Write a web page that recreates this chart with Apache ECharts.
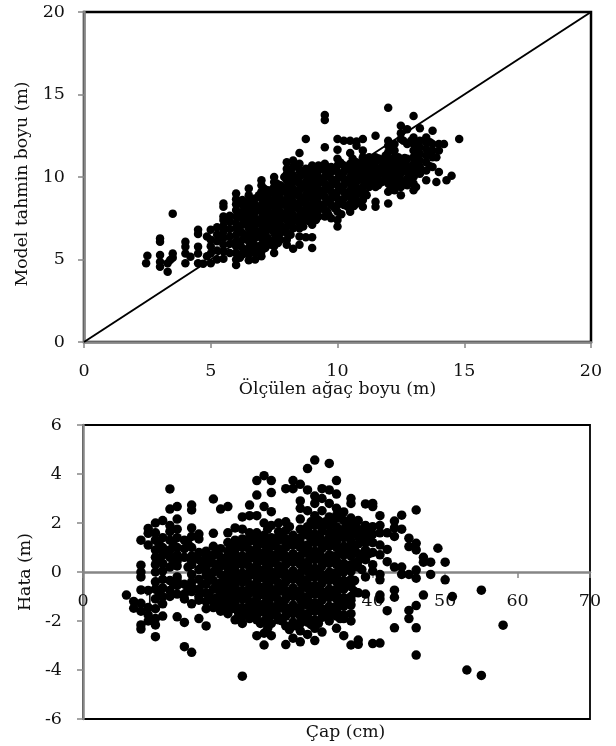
<!DOCTYPE html>
<html><head><meta charset="utf-8">
<style>html,body{margin:0;padding:0;background:#fff}#c{width:616px;height:746px}</style>
<script src="https://cdn.jsdelivr.net/npm/echarts@6/dist/echarts.min.js"></script>
</head><body><div id="c"></div>
<script>
const topTitleX = 'Ölçülen ağaç boyu (m)';
const topTitleY = 'Model tahmin boyu (m)';
const bottomTitleX = 'Çap (cm)';
const bottomTitleY = 'Hata (m)';
const diagonal = [[0,0],[20,20]];

// Measured height (m) -> model heights (m), read column by column
const measuredHeights = [2.45,2.5,3,3.3,3.4,3.5,4,4.2,4.5,4.7,4.85,5,5.25,5.5,5.75,6,6.25,6.5,6.75,7,7.25,7.5,7.75,8,8.25,8.5,8.75,9,9.25,9.5,9.75,10,10.25,10.5,10.75,11,11.25,11.5,11.75,12,12.25,12.5,12.75,13,13.25,13.5,13.75,13.9,14,14.2,14.3,14.5,14.8];
const modelHeights = [
[4.77],[5.23],[6.28,6.08,5.27,4.87,4.56],[4.77,4.26],[4.97],[7.78,5.37,5.1],
[6.08,5.78,5.37,4.77],[5.17],[6.8,6.55,5.78,5.37,4.77],[4.75],[6.39,5.2],[6.8,6.2,5.8,5.37,4.77],
[5.0,5.55,6.1,6.5,6.95],[5.05,5.5,5.9,6.3,6.7,7.05,7.4,7.6,8.2,8.4],[5.4,5.95,6.4,6.85,7.3,7.65],
[4.67,5.0,5.4,5.8,6.1,6.5,6.9,7.2,7.6,8.0,8.35,8.65,9.0],[5.3,5.7,6.2,6.6,7.1,7.5,7.9,8.3,8.6],
[4.95,5.3,5.7,6.1,6.5,6.9,7.3,7.7,8.1,8.5,8.9,9.3],[5.0,5.4,5.85,6.3,6.7,7.1,7.5,7.9,8.3,8.7],
[5.2,5.5,5.9,6.3,6.7,7.1,7.5,7.9,8.3,8.7,9.1,9.5,9.8],[5.9,6.3,6.8,7.2,7.6,8.0,8.4,8.8,9.2],
[5.4,5.8,6.2,6.6,7.0,7.4,7.8,8.2,8.6,9.0,9.4,9.7,10.0],[6.2,6.6,7.1,7.5,7.9,8.3,8.7,9.1,9.5],
[5.9,6.2,6.6,7.0,7.4,7.8,8.2,8.6,9.0,9.4,9.8,10.2,10.5,10.9],[5.65,6.9,7.3,7.7,8.1,8.5,8.9,9.3,9.7,10.1,10.6,11.0],
[5.9,6.4,6.9,7.2,7.6,8.0,8.4,8.8,9.2,9.6,10.0,10.4,10.8,11.45],[6.35,7.4,7.7,8.1,8.5,8.9,9.3,9.7,10.1,10.5,12.3],
[5.7,6.35,7.1,7.5,7.9,8.3,8.7,9.1,9.5,9.9,10.3,10.7],[7.6,8.0,8.4,8.8,9.2,9.6,10.0,10.4,10.7],
[7.6,8.0,8.4,8.8,9.2,9.6,10.0,10.4,10.8,11.8,13.45,13.76],[7.5,8.3,8.7,9.1,9.5,9.9,10.3,10.6],
[7.0,7.4,7.9,8.3,8.7,9.1,9.5,9.9,10.3,10.7,11.1,11.65,12.3],[8.3,8.7,9.1,9.5,9.9,10.3,10.7,12.2],
[7.9,8.4,8.8,9.2,9.6,10.0,10.4,10.8,11.45,12.2],[8.5,8.9,9.3,9.7,10.1,10.5,10.9,11.9,12.15],
[8.2,8.6,9.0,9.4,9.8,10.3,10.9,11.2,11.6,12.3],[9.4,9.9,10.3,10.8,11.2],
[8.2,8.5,9.4,9.9,10.3,10.9,11.2,12.5],[9.7,10.2,10.6,11.0],
[8.4,9.1,9.6,9.9,10.3,10.7,11.1,11.5,11.9,12.2,14.2],[9.2,9.6,10.0,10.4,10.8,11.2,11.6,12.0],
[8.9,9.4,9.8,10.2,10.6,11.0,12.3,12.65,13.1],[9.5,9.9,10.3,10.7,11.1,12.0,12.9],
[9.2,9.6,10.0,10.4,10.8,11.2,11.6,12.0,12.4,13.7],[10.2,10.6,11.0,11.4,11.8,12.2,12.95],
[9.8,10.4,10.9,11.3,11.7,12.1,12.4],[10.6,11.2,11.6,12.0,12.8],
[9.7,11.2],[10.3,11.6,12.0],[12.0],[9.8],[10.07],[12.3]
];
// Further trees inside the dense cloud of the upper panel
const measuredHeightsDense = [6.4,6.6,6.9,7.1,7.4,7.6,7.9,8.1,8.4,8.6,8.9,9.1,9.4,9.6,9.9,10.1,10.4,10.6,10.9,11.1,11.4,11.6,11.9,12.1,12.4,12.6,12.9,13.1];
const modelHeightsDense = [
[5.5,6.4,7.3,8.1],[6.0,6.9,7.7,8.4],[5.7,6.5,7.3,8.1,8.9],[6.1,6.9,7.7,8.5,9.3],[5.9,6.8,7.6,8.4,9.2],
[6.4,7.2,8.0,8.8,9.6],[6.8,7.6,8.4,9.2,10.0],[7.2,8.0,8.8,9.6,10.4],[7.5,8.3,9.1,9.9,10.7],[7.9,8.7,9.5,10.3],
[7.3,8.1,8.9,9.7,10.5],[7.7,8.5,9.3,10.1],[8.2,9.0,9.8,10.6],[7.9,8.6,9.4,10.2],[8.1,8.9,9.7,10.5],
[8.5,9.3,10.1,10.9],[8.2,9.0,9.8,10.6],[8.7,9.5,10.3,11.1],[8.4,9.2,10.0,10.7],[9.0,9.6,10.1,10.6],
[9.7,10.2,10.6,11.0],[9.5,10.1,10.5,11.1],[9.9,10.5,10.9,11.3],[9.4,9.8,10.2,10.6,11.0],
[9.6,10.0,10.4,10.8,11.2],[9.6,10.4,10.9,12.2],[9.8,10.2,10.6,12.2],[9.4,10.2,11.0,11.8]
];
const measuredHeightsCore = [6.15,6.65,7.15,7.65,8.15,8.65,9.15,9.65,10.15,10.65,11.15,11.65,12.15,12.65,13.15,13.65];
const modelHeightsCore = [
[5.1,5.95,6.75,7.6],[5.6,6.55,7.5,8.3],[5.7,6.55,7.4,8.2,9.0],[6.0,6.9,7.75,8.55,9.4],
[6.5,7.5,8.3,9.1,9.9,10.35],[7.0,7.85,8.65,9.45,10.25],[7.4,8.2,9.0,9.8,10.5],[7.7,8.5,9.3,10.1],
[7.75,8.5,9.3,10.05,10.8],[8.25,9.05,9.85,10.65],[8.9,9.65,10.5,11.0],[9.6,10.35,11.1],
[9.4,10.15,10.95,11.75],[9.7,10.5,11.15],[10.4,11.2,12.05],[10.65,11.45,12.1]
];

// Diameter (cm) -> height error (m), read column by column
const diameters = [6,7,8,9,10,11,12,13,14,15,16,17,18,19,20,21,22,23,24,25,26,27,28,29,30,31,32,33,34,35,36,37,38,39,40,41,42,43,44,45,46,47,48,49,50,51,53,55,58];
const errors = [
[-0.94],[-1.2,-1.48],[1.3,0.28,0,-0.2,-0.73,-1.28,-1.6,-2.16,-2.33],[1.78,1.58,1.1,-0.75,-1.45,-1.75,-2.0],
[2.0,1.6,1.3,0.9,0.6,0.3,0,-0.4,-0.7,-1.1,-1.5,-1.9,-2.16,-2.64],[2.1,1.4,1.0,0.7,0.35,0.05,-0.3,-1.0,-1.3,-1.8],
[3.39,2.57,1.9,1.65,1.3,0.9,0.6,0.2,-0.35,-0.75,-1.0],[2.67,2.16,1.75,1.4,1.0,0.7,0.25,-0.2,-0.55,-0.9,-1.83],
[1.3,0.95,0.6,-0.5,-0.9,-1.1,-2.06,-3.05],[2.73,2.53,1.8,1.45,1.0,0.65,0.3,-0.1,-0.4,-0.8,-1.3,-3.28],
[1.55,1.35,0.8,0.5,0.1,-0.3,-0.7,-1.0,-1.15,-1.9],[0.85,0.55,0.2,-0.15,-0.5,-1.2,-1.5,-2.2],
[2.98,1.58,1.05,0.7,0.35,0,-0.35,-0.7,-1.2,-1.45],[2.57,0.95,0.6,0.25,-0.1,-0.45,-0.85,-1.2,-1.6],
[2.67,1.6,1.2,0.85,0.5,0.15,-0.2,-0.55,-0.9,-1.25,-1.7],[1.8,1.3,0.95,0.6,0.25,-0.1,-0.45,-0.8,-1.15,-1.5,-1.95],
[2.25,1.75,1.35,1.0,0.65,0.3,-0.05,-0.4,-0.75,-1.1,-1.45,-1.8,-2.1,-4.25],
[2.73,2.3,1.6,1.25,0.9,0.55,0.2,-0.15,-0.5,-0.85,-1.2,-1.55,-1.9],
[3.73,3.14,2.3,1.6,1.2,0.85,0.5,0.15,-0.2,-0.55,-0.9,-1.25,-1.6,-1.95,-2.6],
[3.93,2.67,2.0,1.5,1.15,0.8,0.45,0.1,-0.25,-0.6,-0.95,-1.3,-1.65,-2.0,-2.5,-2.98],
[3.73,3.24,2.46,1.9,1.4,1.05,0.7,0.35,0,-0.35,-0.7,-1.05,-1.4,-1.75,-2.1,-2.6],
[2.0,1.65,1.3,0.95,0.6,0.25,-0.1,-0.45,-0.8,-1.15,-1.5,-1.85],
[3.4,2.05,1.7,1.35,1.0,0.65,0.3,-0.05,-0.4,-0.75,-1.1,-1.45,-1.8,-2.2,-2.96],
[3.73,3.4,1.5,1.1,0.75,0.4,0.05,-0.3,-0.65,-1.0,-1.35,-1.7,-2.05,-2.7],
[3.58,2.9,2.6,2.16,1.75,1.4,1.0,0.65,0.3,-0.05,-0.4,-0.75,-1.1,-1.45,-1.8,-2.4,-2.85],
[4.22,3.35,2.5,1.85,1.5,1.1,0.75,0.4,0.05,-0.3,-0.65,-1.0,-1.35,-1.7,-2.05,-2.55],
[4.57,3.1,2.8,2.3,1.9,1.55,1.2,0.85,0.5,0.15,-0.2,-0.55,-0.9,-1.25,-1.6,-1.95,-2.3,-2.8],
[3.4,3.0,2.5,2.0,1.65,1.3,0.95,0.6,0.25,-0.1,-0.45,-0.8,-1.15,-1.5,-1.85,-2.45],
[4.43,3.35,2.8,2.25,1.9,1.4,1.05,0.7,0.35,0,-0.35,-0.7,-1.05,-1.4,-1.75,-2.0],
[3.73,3.18,2.6,2.3,1.85,1.5,1.0,0.65,0.3,-0.05,-0.4,-0.75,-1.1,-1.45,-1.8,-2.3],
[2.45,2.1,1.75,1.4,1.05,0.7,0.35,0,-0.35,-0.7,-1.05,-1.4,-1.75,-2.6],
[3.0,2.8,2.2,1.85,1.5,1.0,0.65,0.3,0.02,-0.3,-0.6,-1.0,-1.35,-1.7,-2.0,-2.98],
[2.1,1.75,1.45,1.15,0.75,0.45,0.2,-0.85,-2.78,-2.95],
[2.78,1.9,1.55,1.2,0.9,0.5,-0.2,-0.9],
[2.8,2.67,1.85,1.55,1.2,0.8,0.3,0.04,-2.92],
[2.3,1.9,1.6,1.1,0.7,-0.1,-0.32,-0.94,-1.1,-2.9],
[1.6,0.92,0.42,-1.58],[2.08,1.8,1.45,0.2,-0.74,-1.03,-2.28],[2.32,1.75,0.2,-0.1],
[1.38,1.04,-0.1,-1.57,-1.9],[2.53,1.17,0.9,0.08,-0.25,-1.37,-2.28,-3.39],[0.6,0.4,-0.94],[0.4,-0.1],[0.97],[0.4,-0.32],[-1.0],[-4.0],[-0.74,-4.22],[-2.17]
];
// Further trees inside the dense cloud of the lower panel
const diametersDense = [10.5,12.5,14.5,16.5,17.5,18.5,19.5,20.5,21.5,22.5,23.5,24.5,25.5,26.5,27.5,28.5,29.5,30.5,31.5,32.5,33.5,34.5,35.5,36.5,37.5,38.5,39.5];
const errorsDense = [
[1.15,0.45,-0.9],[1.1,0.4,-0.5],[1.15,0.2,-0.7],[0.3,-0.5],[0.4,-0.3,-1.0],
[0.85,0.15,-0.5,-1.05],[0.4,-0.3,-1.0],[1.0,0.35,-0.35,-1.05,-1.5],[1.1,0.4,-0.3,-1.0,-1.7],
[1.15,0.45,-0.25,-0.95,-1.65],[1.45,0.75,0.05,-0.65,-1.35,-1.75],[1.4,0.7,0,-0.7,-1.4,-2.1],
[1.75,1.0,0.3,-0.4,-1.1,-1.8,-2.3],[1.25,0.55,-0.15,-0.85,-1.55],[1.5,0.8,0.1,-0.6,-1.3,-2.0],
[1.85,1.15,0.45,-0.25,-0.95,-1.65,-2.35],[1.3,0.6,-0.1,-0.8,-1.5,-2.2],[1.6,0.9,0.2,-0.5,-1.2,-1.9],
[2.05,1.35,0.65,-0.05,-0.75,-1.45,-2.15],[2.1,1.4,0.7,0,-0.7,-1.4,-2.1],[2.05,1.2,0.5,-0.2,-0.9,-1.6],
[2.1,1.35,0.65,-0.05,-0.75,-1.45],[2.2,1.5,0.8,0.1,-0.6,-1.3,-1.9],[2.0,1.65,0.85,0.15,-0.55,-1.2],
[1.95,1.6,0.9,0.35,-0.35,-0.8],[1.65,1.3,0.7,0.1],[1.7,1.35,0.75]
];
const diametersCore = [11,13,15,17,19,20,21,22,23,24,25,26,27,28,29,30,31,32,33,34,35,36,37];
const errorsCore = [
[0.85,-0.65],[0.45,-0.35],[0.45,-0.6],[0.7,0,-0.85],[0.4,-0.65,-1.4],
[0.65,-0.05,-0.7,-1.45],[0.75,0.05,-0.6,-1.3],[1.15,0.45,-0.2,-0.9,-1.6],[1.4,0.7,0,-0.65,-1.35],
[1.0,0.3,-0.4,-1.05,-1.75],[1.3,0.6,-0.1,-0.8,-1.5],[1.2,0.5,-0.15,-0.85,-1.55],[1.45,0.8,0.1,-0.6,-1.3,-1.95],
[1.15,0.45,-0.25,-0.9,-1.6],[1.3,0.6,-0.15,-0.8,-1.5,-2.2],[1.2,0.5,-0.2,-0.9,-1.6,-2.1],
[1.7,1.0,0.25,-0.5,-1.15,-1.85],[1.4,0.65,-0.05,-0.75,-1.4,-2.1],[1.8,1.1,0.4,-0.3,-1.0,-1.65],
[1.6,1.2,0.5,-0.15,-0.85,-1.55],[1.7,1.25,0.45,-0.2,-0.9,-1.6],[1.6,0.9,0.15,-0.5,-1.2,-1.9],[1.25,0.8,0.15,-0.45,-1.15]
];

const toPoints = (xs, yss) => xs.flatMap((x, i) => yss[i].map(y => [x, y]));
const topPoints = toPoints(measuredHeights, modelHeights)
  .concat(toPoints(measuredHeightsDense, modelHeightsDense), toPoints(measuredHeightsCore, modelHeightsCore));
const bottomPoints = toPoints(diameters, errors)
  .concat(toPoints(diametersDense, errorsDense), toPoints(diametersCore, errorsCore));

const FONT = '"DejaVu Serif"';
const GREY = '#868686';
const INK = '#111';
const label = m => ({color: INK, fontFamily: FONT, fontSize: 17.5, margin: m, showMinLabel: true, showMaxLabel: true, hideOverlap: false});
const name = (pad) => ({color: INK, fontFamily: FONT, fontSize: 17.3, padding: pad});
const line = {show: true, onZero: false, lineStyle: {color: GREY, width: 2.5}};
const tick = {show: true, inside: false, length: 6, lineStyle: {color: GREY, width: 1.5}};

const chart = echarts.init(document.getElementById('c'), null, {renderer: 'canvas'});
chart.setOption({
  animation: false,
  backgroundColor: '#fff',
  grid: [
    {left: 84, top: 12, width: 507, height: 330, outerBoundsMode: 'none', containLabel: false, show: true, borderColor: '#000', borderWidth: 2.5, backgroundColor: '#fff'},
    {left: 83, top: 425, width: 507, height: 294, outerBoundsMode: 'none', containLabel: false, show: true, borderColor: '#000', borderWidth: 1.8, backgroundColor: '#fff'}
  ],
  xAxis: [
    {gridIndex: 0, type: 'value', min: 0, max: 20, interval: 5, splitLine: {show: false}, axisLine: line, axisTick: tick,
     axisLabel: label(20), name: topTitleX, nameLocation: 'middle', nameGap: 38, nameTextStyle: name([0,0,0,0])},
    {gridIndex: 1, type: 'value', min: 0, max: 70, interval: 10, offset: -147, splitLine: {show: false}, axisLine: line, axisTick: tick,
     axisLabel: label(20), name: bottomTitleX, nameLocation: 'middle', nameGap: 152, nameTextStyle: name([0,0,0,18])}
  ],
  yAxis: [
    {gridIndex: 0, type: 'value', min: 0, max: 20, interval: 5, splitLine: {show: false}, axisLine: line, axisTick: tick,
     axisLabel: label(19), name: topTitleY, nameLocation: 'middle', nameGap: 53, nameTextStyle: name([0,14,0,0])},
    {gridIndex: 1, type: 'value', min: -6, max: 6, interval: 2, splitLine: {show: false}, axisLine: line, axisTick: tick,
     axisLabel: label(21), name: bottomTitleY, nameLocation: 'middle', nameGap: 46, nameTextStyle: name([0,0,0,0])}
  ],
  series: [
    {type: 'line', xAxisIndex: 0, yAxisIndex: 0, data: diagonal, symbol: 'none', silent: true, lineStyle: {color: '#000', width: 2}, z: 3},
    {type: 'scatter', xAxisIndex: 0, yAxisIndex: 0, data: topPoints, symbol: 'circle', symbolSize: 8.5, itemStyle: {color: '#000', opacity: 1}, silent: true, z: 4},
    {type: 'scatter', xAxisIndex: 1, yAxisIndex: 1, data: bottomPoints, symbol: 'circle', symbolSize: 9.5, itemStyle: {color: '#000', opacity: 1}, silent: true, z: 4}
  ]
});
</script></body></html>
